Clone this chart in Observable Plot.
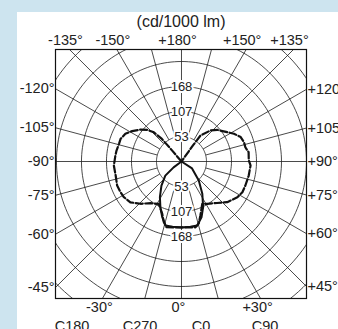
<!DOCTYPE html>
<html><head><meta charset="utf-8">
<script src="https://cdn.jsdelivr.net/npm/d3@7"></script>
<script src="https://cdn.jsdelivr.net/npm/@observablehq/plot@0.6"></script>
<style>
html,body{margin:0;padding:0;}
body{width:338px;height:329px;background:#cde4ef;position:relative;overflow:hidden;font-family:"Liberation Sans",Arial,sans-serif;}
#panel{position:absolute;left:17px;top:12px;right:0;bottom:0;background:#fff;}
#chart{position:absolute;left:0;top:0;}
#legend{position:absolute;left:0;top:318px;width:338px;height:24px;font-size:14.5px;color:#222;}
#legend span{position:absolute;top:0;transform:translateX(-50%);white-space:nowrap;}
#legend span:nth-child(1){left:72px;}
#legend span:nth-child(2){left:140px;}
#legend span:nth-child(3){left:201px;}
#legend span:nth-child(4){left:265px;}
</style></head><body>
<div id="panel"></div>
<div id="chart"></div>
<div id="legend"></div>
<script>
// ---- data ----
const unitTitle = "(cd/1000 lm)";
const ringStep = 53.5;               // cd per ring
const ringLabels = ["53", "107", "168"];
const ringCount = 8;

const topAngles = [-135, -150, 180, 150, 135];
const topLabels = ["-135°", "-150°", "+180°", "+150°", "+135°"];
const leftAngles = [-120, -105, -90, -75, -60, -45];
const leftLabels = ["-120°", "-105°", "-90°", "-75°", "-60°", "-45°"];
const rightAngles = [120, 105, 90, 75, 60, 45];
const rightLabels = ["+120°", "+105°", "+90°", "+75°", "+60°", "+45°"];
const bottomAngles = [-30, 0, 30];
const bottomLabels = ["-30°", "0°", "+30°"];

const legendLabels = ["C180", "C270", "C0", "C90"];

// C90-C270 plane (dashed), angle in degrees from nadir, intensity in cd/1000 lm
const anglesC90 = [-140, -139.5, -139, -136.6, -132.7, -128, -121.6, -116.3, -110.4, -105.8, -99.6, -95.2,
  -86.6, -78, -69.5, -63.3, -58.3, -51.4, -44.1, -36.6, -28.2, -20.3, -16.3, -13, -6, 0, 6, 12, 15.5,
  19.4, 26.1, 31.3, 40.6, 48.3, 57.3, 63.2, 69.4, 78.2, 86.7, 90.9, 97.9, 102.6, 107.2, 112.4, 117.9,
  125.6, 131.6, 136.9, 143.8, 144.5, 145];
const valuesC90 = [0, 32, 64, 86, 100, 111, 124, 134, 139, 139, 141, 142,
  145, 144, 147, 146, 145, 140, 126, 111, 103, 119, 135, 144, 142, 141, 142, 144, 138,
  122, 101, 106, 117, 131, 142, 146, 146, 147, 148, 144, 145, 140, 140, 137, 127,
  111, 102, 91, 69, 43, 0];

// C0-C180 plane (solid)
const anglesC0 = [-62, -53.5, -48.8, -39.8, -31.3, -24.7, -19.1, -14, -7.8, 0, 7.8, 13.8, 19.7, 25.4, 32.9, 42.3, 56.8, 63];
const valuesC0 = [0, 21, 46, 67, 89, 108, 126, 141, 141, 141, 141, 141, 127, 108, 82, 55, 27, 0];

// ---- geometry helpers ----
const XL = -269.6, XR = 267.5, YT = -239.7, YB = 293.2;
const rad = d => d * Math.PI / 180;
const px = (a, r) => r * Math.sin(rad(a));
const py = (a, r) => r * Math.cos(rad(a));

const c90 = anglesC90.map((a, i) => ({a, r: valuesC90[i]}));
const c0 = anglesC0.map((a, i) => ({a, r: valuesC0[i]}));

const rings = [];
for (let k = 1; k <= ringCount; k++) for (let t = 0; t <= 360; t += 2) rings.push({k, a: t, r: k * ringStep});
const spokes = d3.range(-165, 181, 15).filter(a => a % 90 !== 0);

const ringText = ringLabels.flatMap((t, i) => [{t, y: -(i + 1) * ringStep}, {t, y: (i + 1) * ringStep}]);
const zip = (as, ls) => as.map((a, i) => ({a, t: ls[i]}));

const ink = "#1c1c1c";
const chart = Plot.plot({
  width: 338, height: 329,
  marginLeft: 55, marginRight: 32, marginTop: 49, marginBottom: 31,
  x: {domain: [XL, XR], axis: null},
  y: {domain: [YT, YB], reverse: true, axis: null},
  style: {background: "transparent", fontFamily: "Liberation Sans, Arial, sans-serif", color: "#222", overflow: "visible"},
  marks: [
    Plot.line(rings, {x: d => px(d.a, d.r), y: d => py(d.a, d.r), z: "k", stroke: ink, strokeWidth: 0.8, clip: true}),
    Plot.link(spokes, {x1: a => px(a, ringStep), y1: a => py(a, ringStep), x2: a => px(a, 900), y2: a => py(a, 900), stroke: ink, strokeWidth: 0.8, clip: true}),
    Plot.ruleX([0], {stroke: ink, strokeWidth: 0.8}),
    Plot.ruleY([0], {stroke: ink, strokeWidth: 0.8}),
    Plot.frame({stroke: "#111", strokeWidth: 1.2}),
    Plot.text(ringText, {x: () => 0, y: "y", text: "t", fontSize: 13, fill: "#222", stroke: "white", strokeWidth: 4}),
    Plot.line(c90, {x: d => px(d.a, d.r), y: d => py(d.a, d.r), stroke: "#111", strokeWidth: 2.2, strokeDasharray: "7,2.5"}),
    Plot.line(c0, {x: d => px(d.a, d.r), y: d => py(d.a, d.r), stroke: "#111", strokeWidth: 2}),
    Plot.text(zip(topAngles, topLabels), {x: d => YT * Math.tan(rad(d.a)), y: () => YT, text: "t", dy: -9, dx: -4, fontSize: 14.5, fill: "#222"}),
    Plot.text(zip(leftAngles, leftLabels), {x: () => XL, y: d => XL / Math.tan(rad(d.a)), text: "t", textAnchor: "end", dx: -1, fontSize: 14.5, fill: "#222"}),
    Plot.text(zip(rightAngles, rightLabels), {x: () => XR, y: d => XR / Math.tan(rad(d.a)), text: "t", textAnchor: "start", dx: 1, fontSize: 14.5, fill: "#222"}),
    Plot.text(zip(bottomAngles, bottomLabels), {x: d => YB * Math.tan(rad(d.a)), y: () => YB, text: "t", dy: 9, dx: -3, fontSize: 14.5, fill: "#222"}),
    Plot.text([unitTitle], {frameAnchor: "top", lineAnchor: "middle", dy: -28, fontSize: 16, fill: "#222"})
  ]
});
document.getElementById("chart").appendChild(chart);
const lg = document.getElementById("legend");
legendLabels.forEach(t => { const s = document.createElement("span"); s.textContent = t; lg.appendChild(s); });
</script>
</body></html>
